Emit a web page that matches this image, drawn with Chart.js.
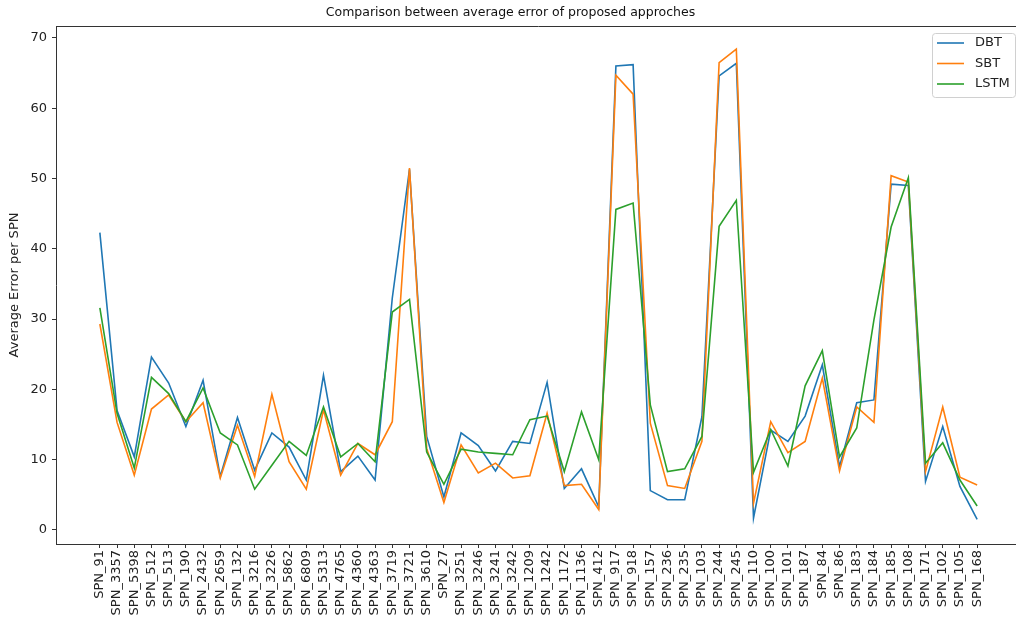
<!DOCTYPE html>
<html>
<head>
<meta charset="utf-8">
<script src="https://cdn.jsdelivr.net/npm/chart.js@4"></script>
<style>
  html, body { margin: 0; padding: 0; overflow: hidden; background: #fff; }
</style>
</head>
<body>
<canvas id="errChart" width="1021" height="620"></canvas>
<script>
const ctx = document.getElementById('errChart').getContext('2d');

// SPN identifiers along the x axis
const spnLabels = [
    'SPN_91', 'SPN_3357', 'SPN_5398', 'SPN_512', 'SPN_513', 'SPN_190', 'SPN_2432', 'SPN_2659',
    'SPN_132', 'SPN_3216', 'SPN_3226', 'SPN_5862', 'SPN_6809', 'SPN_5313', 'SPN_4765', 'SPN_4360',
    'SPN_4363', 'SPN_3719', 'SPN_3721', 'SPN_3610', 'SPN_27', 'SPN_3251', 'SPN_3246', 'SPN_3241',
    'SPN_3242', 'SPN_1209', 'SPN_1242', 'SPN_1172', 'SPN_1136', 'SPN_412', 'SPN_917', 'SPN_918',
    'SPN_157', 'SPN_236', 'SPN_235', 'SPN_103', 'SPN_244', 'SPN_245', 'SPN_110', 'SPN_100',
    'SPN_101', 'SPN_187', 'SPN_84', 'SPN_86', 'SPN_183', 'SPN_184', 'SPN_185', 'SPN_108',
    'SPN_171', 'SPN_102', 'SPN_105', 'SPN_168'
];

const dbtValues = [
    42.3, 17.0, 10.4, 24.6, 20.9, 14.7, 21.3, 7.6, 16.0, 8.5, 13.8, 11.8, 7.1, 22.0, 8.3, 10.5,
    7.1, 33.0, 51.3, 13.3, 4.7, 13.8, 12.0, 8.4, 12.6, 12.3, 21.0, 5.9, 8.7, 3.3, 66.0, 66.2,
    5.6, 4.3, 4.3, 16.1, 64.6, 66.4, 1.7, 14.2, 12.6, 16.2, 23.5, 9.0, 18.1, 18.5, 49.2, 49.0,
    6.9, 14.7, 6.2, 1.5
];

const sbtValues = [
    29.3, 15.3, 7.8, 17.2, 19.2, 15.4, 18.1, 7.4, 14.9, 7.6, 19.3, 9.7, 5.8, 17.1, 7.8, 12.3,
    10.7, 15.4, 51.5, 11.6, 3.9, 12.1, 8.1, 9.5, 7.4, 7.7, 16.6, 6.3, 6.5, 2.9, 64.7, 62.0,
    15.2, 6.3, 5.9, 12.6, 66.5, 68.4, 3.8, 15.4, 11.0, 12.6, 21.6, 8.4, 17.5, 15.3, 50.4, 49.5,
    8.3, 17.5, 7.5, 6.4
];

const lstmValues = [
    31.6, 16.6, 8.8, 21.7, 19.4, 15.4, 20.2, 13.8, 12.1, 5.8, 9.2, 12.6, 10.6, 17.5, 10.4, 12.3,
    9.7, 31.0, 32.8, 11.1, 6.5, 11.5, 11.1, 10.9, 10.7, 15.7, 16.2, 8.3, 16.8, 10.0, 45.6, 46.5,
    17.8, 8.3, 8.7, 13.3, 43.2, 46.9, 8.2, 14.3, 9.1, 20.5, 25.5, 10.4, 14.5, 29.9, 43.1, 50.1,
    9.5, 12.4, 7.1, 3.4
];

const yTicks = [0, 10, 20, 30, 40, 50, 60, 70];

const seriesList = [
    {label: 'DBT', values: dbtValues, color: '#1f77b4', order: 3},
    {label: 'SBT', values: sbtValues, color: '#ff7f0e', order: 2},
    {label: 'LSTM', values: lstmValues, color: '#2ca02c', order: 1},
];

const datasets = seriesList.map(s => {
    return {
        label: s.label,
        data: s.values.map((v, i) => ({x: i, y: v})),
        borderColor: s.color,
        backgroundColor: s.color,
        borderWidth: 1.6,
        pointRadius: 0,
        tension: 0,
        order: s.order,
    };
});

// top spine and matplotlib style legend box
const framePlugin = {
    id: 'frame',
    afterDraw(chart) {
        const c = chart.ctx;
        const a = chart.chartArea;
        c.save();
        c.strokeStyle = '#333';
        c.lineWidth = 1;
        c.beginPath();
        c.moveTo(a.left, a.top + 0.5);
        c.lineTo(a.right, a.top + 0.5);
        c.moveTo(a.right - 0.5, a.top);
        c.lineTo(a.right - 0.5, a.bottom);
        c.stroke();

        // legend
        const bx = 932, by = 33, bw = 83, bh = 64;
        c.fillStyle = 'rgba(255,255,255,0.8)';
        c.strokeStyle = '#d0d0d0';
        c.beginPath();
        c.roundRect(bx + 0.5, by + 0.5, bw, bh, 3);
        c.fill();
        c.stroke();
        c.font = '13px "DejaVu Sans"';
        c.textBaseline = 'middle';
        c.textAlign = 'left';
        seriesList.forEach((s, i) => {
            const yy = by + 10 + i * 20.5;
            c.strokeStyle = s.color;
            c.lineWidth = 1.6;
            c.beginPath();
            c.moveTo(bx + 5, yy);
            c.lineTo(bx + 32, yy);
            c.stroke();
            c.fillStyle = '#222';
            c.fillText(s.label, bx + 43, yy);
        });
        c.restore();
    }
};

Chart.defaults.font.family = '"DejaVu Sans"';
Chart.defaults.color = '#222';

const errChart = new Chart(ctx, {
    type: 'line',
    data: {
        datasets: datasets
    },
    options: {
        responsive: false,
        animation: false,
        layout: {padding: 0},
        plugins: {
            legend: {display: false},
            tooltip: {enabled: false},
            title: {
                display: true,
                text: 'Comparison between average error of proposed approches',
                font: {size: 12.5, weight: 'normal'},
                color: '#111',
                padding: {top: 5, bottom: 6},
            }
        },
        scales: {
            x: {
                type: 'linear',
                min: -2.55,
                max: spnLabels.length - 1 + 2.55,
                afterBuildTicks: scale => {
                    scale.ticks = spnLabels.map((_, i) => ({value: i}));
                },
                afterFit: scale => { scale.height = 76; },
                grid: {
                    display: true,
                    drawOnChartArea: false,
                    drawTicks: true,
                    tickLength: 4,
                    color: '#333',
                },
                border: {display: true, color: '#333', width: 1},
                ticks: {
                    autoSkip: false,
                    minRotation: 90,
                    maxRotation: 90,
                    padding: 2,
                    font: {size: 13},
                    callback: value => spnLabels[value],
                }
            },
            y: {
                min: -2.0,
                max: 71.7,
                afterBuildTicks: scale => {
                    scale.ticks = yTicks.map(v => ({value: v}));
                },
                afterFit: scale => { scale.width = 56; },
                title: {
                    display: true,
                    text: 'Average Error per SPN',
                    font: {size: 13},
                    padding: {top: 7, bottom: 0},
                },
                grid: {
                    display: true,
                    drawOnChartArea: false,
                    drawTicks: true,
                    tickLength: 4,
                    color: '#333',
                },
                border: {display: true, color: '#333', width: 1},
                ticks: {
                    padding: 5,
                    font: {size: 13},
                }
            }
        }
    },
    plugins: [framePlugin]
});
</script>
</body>
</html>
